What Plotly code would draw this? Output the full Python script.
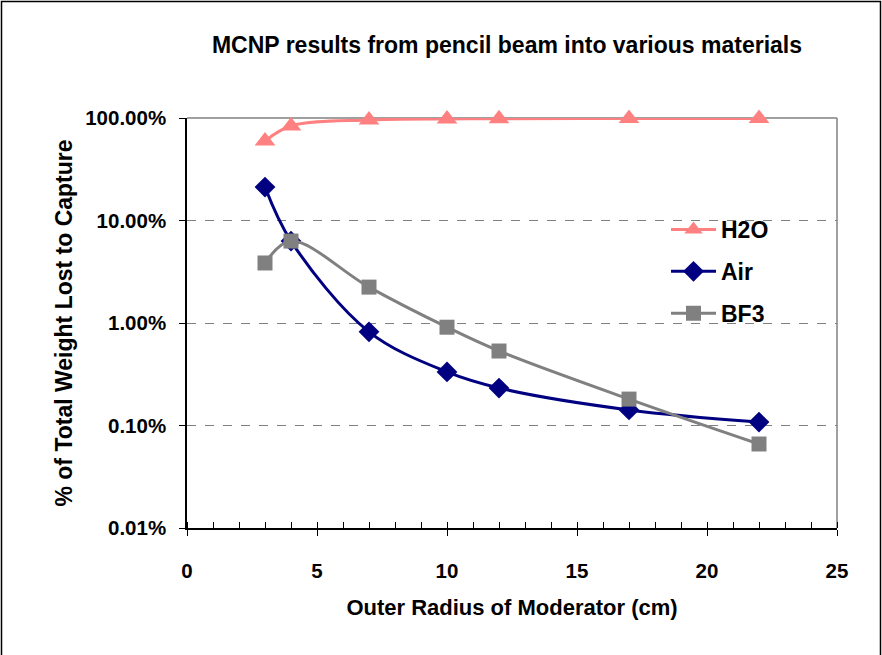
import plotly.graph_objects as go

# Outer radius of moderator (cm)
radius = [3, 4, 7, 10, 12, 17, 22]

# Fraction of total weight lost to capture
h2o = [0.597, 0.836, 0.956, 0.980, 0.985, 0.990, 0.990]
air = [0.212, 0.063, 0.0082, 0.00333, 0.00232, 0.00142, 0.00108]
bf3 = [0.0385, 0.063, 0.0224, 0.0091, 0.00533, 0.00181, 0.00066]

y_tickvals = [0.0001, 0.001, 0.01, 0.1, 1.0]
y_ticktext = ["0.01%", "0.10%", "1.00%", "10.00%", "100.00%"]
x_tickvals = [0, 5, 10, 15, 20, 25]

FONT = "Arial, Liberation Sans, sans-serif"
W, H = 882, 655
L, R, T, B = 187, 45, 118, 127
pw, ph = W - L - R, H - T - B

fig = go.Figure()
series = [
    ("H2O", h2o, "#FF8080", "triangle-up", 18),
    ("Air", air, "#000080", "diamond", 16),
    ("BF3", bf3, "#808080", "square", 15),
]
for name, vals, col, sym, sz in series:
    fig.add_trace(go.Scatter(
        x=radius, y=vals, name=name, mode="lines+markers",
        line=dict(color=col, width=3, shape="spline", smoothing=1.0),
        marker=dict(color=col, symbol=sym, size=sz, line=dict(width=0)),
        legendgroup=name, cliponaxis=False,
    ))

fig.update_layout(
    width=W, height=H,
    margin=dict(l=L, r=R, t=T, b=B),
    paper_bgcolor="white", plot_bgcolor="white",
    font=dict(family=FONT, size=20, color="black", weight="bold"),
    title=dict(text="MCNP results from pencil beam into various materials",
               x=(507 - L) / pw, xref="paper", xanchor="center",
               y=1 - 45 / H, yref="container", yanchor="middle",
               font=dict(size=23, family=FONT, weight="bold")),
    showlegend=True,
    legend=dict(x=(666 - L) / pw, y=1 - (208 - T) / ph, xanchor="left", yanchor="top",
                bgcolor="rgba(0,0,0,0)", borderwidth=0, itemwidth=45,
                tracegroupgap=9, font=dict(size=23, family=FONT, weight="bold"),
                traceorder="grouped"),
    xaxis=dict(range=[0, 25], tickvals=x_tickvals, showgrid=False, zeroline=False,
               showline=True, linecolor="black", linewidth=1.5,
               ticks="outside", ticklen=6, tickcolor="black", tickwidth=1,
               minor=dict(dtick=1, ticks="inside", ticklen=6, tickcolor="black", showgrid=False),
               ticklabelstandoff=18, tickfont=dict(size=20.5),
               title=dict(text="Outer Radius of Moderator (cm)", standoff=18,
                          font=dict(size=22, family=FONT, weight="bold")),
               mirror=False),
    yaxis=dict(type="log", range=[-4, 0], tickvals=y_tickvals, ticktext=y_ticktext,
               showgrid=True, gridcolor="#808080", griddash="dash", gridwidth=1,
               zeroline=False, showline=True, linecolor="black", linewidth=1.5,
               ticks="outside", ticklen=6, tickcolor="black",
               ticklabelstandoff=9, tickfont=dict(size=20.5),
               title=dict(text="% of Total Weight Lost to Capture", standoff=6,
                          font=dict(size=23, family=FONT, weight="bold"))),
)

# white area behind the legend that hides the gridlines
fig.add_shape(type="rect", xref="paper", yref="paper", layer="between",
              x0=(625 - L) / pw, x1=(810 - L) / pw,
              y0=(H - B - 345) / ph, y1=(H - B - 200) / ph,
              line=dict(width=0), fillcolor="white")
# grey top and right plot-area border
fig.add_shape(type="line", xref="paper", yref="paper", x0=0, x1=1, y0=1, y1=1,
              line=dict(color="#808080", width=1.5), layer="below")
fig.add_shape(type="line", xref="paper", yref="paper", x0=1, x1=1, y0=0, y1=1,
              line=dict(color="#808080", width=1.5), layer="below")
# outer chart border
fig.add_shape(type="rect", xref="paper", yref="paper",
              x0=(1.5 - L) / pw, x1=(880.5 - L) / pw,
              y0=(H - B - 660) / ph, y1=(H - B - 1.5) / ph,
              line=dict(color="black", width=1.5), fillcolor="rgba(0,0,0,0)")

fig.write_html("out.html")
